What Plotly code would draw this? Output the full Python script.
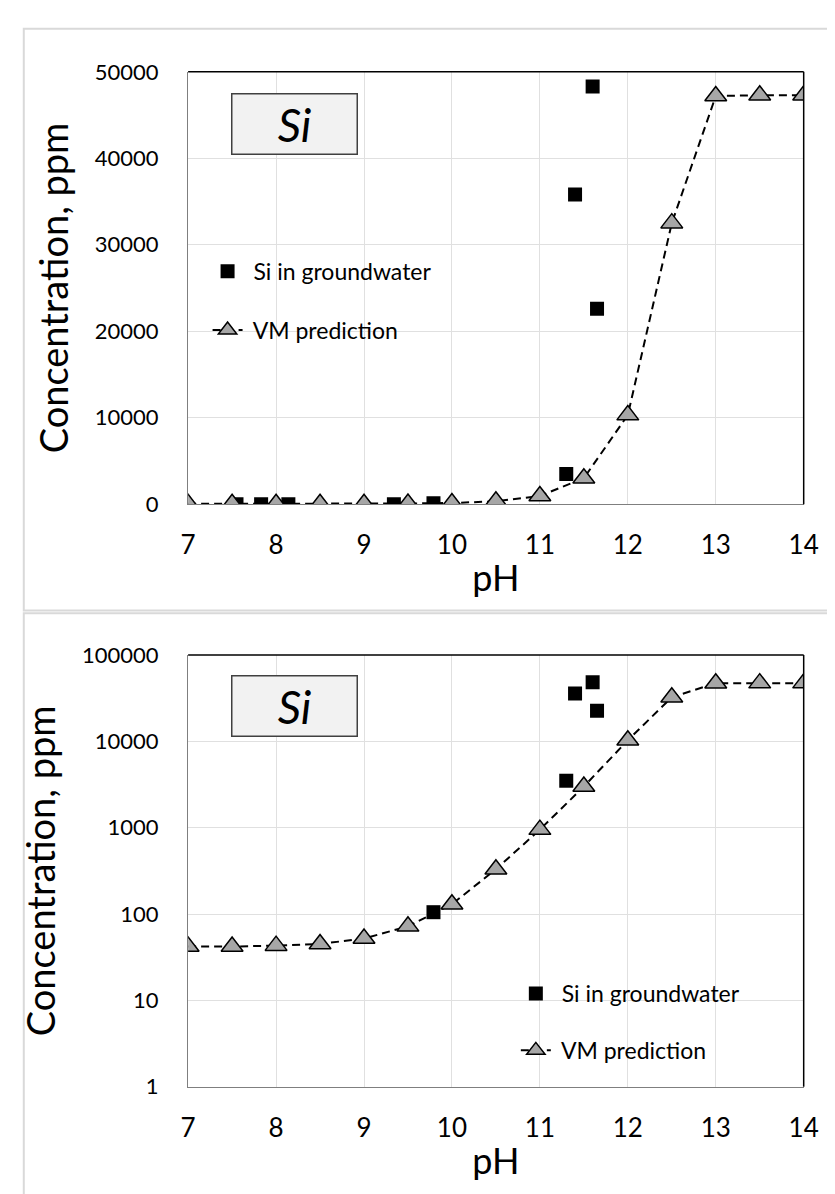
import plotly.graph_objects as go

# ---- data ----
ph_model = [7, 7.5, 8, 8.5, 9, 9.5, 10, 10.5, 11, 11.5, 12, 12.5, 13, 13.5, 14]
si_model = [42, 42, 43, 45, 52, 72, 130, 330, 950, 3000, 10300, 32500, 47200, 47300, 47300]
ph_gw = [7.55, 7.83, 8.14, 9.34, 9.79, 11.3, 11.4, 11.6, 11.65]
si_gw = [0, 0, 0, 0, 105, 3500, 35800, 48300, 22600]
x_ticks = [7, 8, 9, 10, 11, 12, 13, 14]
y_lin_ticks = [0, 10000, 20000, 30000, 40000, 50000]
y_log_ticks = [1, 10, 100, 1000, 10000, 100000]

W, H = 835, 1194
FONT = "Lato, 'Open Sans', sans-serif"
NB = "\u00a0"

def py(p):  # pixel y from top -> paper
    return 1 - p / H

def px(p):
    return p / W

fig = go.Figure()

tri = dict(symbol="triangle-up", size=19, color="#a6a6a6", line=dict(color="#000000", width=1.5))
sq = dict(symbol="square", size=14, color="#000000")

for i, (xa, ya, lg) in enumerate([("x", "y", "legend"), ("x2", "y2", "legend2")]):
    fig.add_trace(go.Scatter(
        x=ph_gw, y=si_gw, mode="markers", name=NB + "Si in groundwater",
        marker=sq, xaxis=xa, yaxis=ya, legend=lg, legendgroup=f"a{i}"))
    fig.add_trace(go.Scatter(
        x=ph_model, y=si_model, mode="lines+markers", name=NB + "VM prediction",
        line=dict(color="#000000", width=2, dash="8px,5px"),
        marker=tri, xaxis=xa, yaxis=ya, legend=lg, legendgroup=f"b{i}"))

xdom = [px(177), px(810)]
grid = "#e0e0e0"
axis_common = dict(showline=True, linecolor="#7f7f7f", linewidth=1.3, mirror=False,
                   gridcolor=grid, gridwidth=1, zeroline=False, ticks="")
xfont = dict(family=FONT, size=26, color="#000000")
yfont = dict(family=FONT, size=22, color="#000000")
xtitle = dict(text="pH", font=dict(family=FONT, size=36, color="#000000"), standoff=6)
ytitle = dict(text="Concentration, ppm", font=dict(family=FONT, size=38, color="#000000"), standoff=14)

fig.update_layout(
    width=W, height=H, margin=dict(l=0, r=0, t=0, b=0),
    paper_bgcolor="white", plot_bgcolor="white", showlegend=True,
    xaxis=dict(domain=xdom, range=[7, 14], tickvals=x_ticks, anchor="y", title=xtitle,
               tickfont=xfont, ticklabelstandoff=18, **axis_common),
    yaxis=dict(domain=[py(493.3), py(51)], range=[0, 50000], tickvals=y_lin_ticks,
               ticktext=[str(v) for v in y_lin_ticks], anchor="x", title=ytitle,
               tickfont=yfont, ticklabelstandoff=24, **axis_common),
    xaxis2=dict(domain=xdom, range=[7, 14], tickvals=x_ticks, anchor="y2", title=xtitle,
                tickfont=xfont, ticklabelstandoff=18, **axis_common),
    yaxis2=dict(domain=[py(1089.3), py(647.7)], type="log", range=[0, 5], tickvals=y_log_ticks,
                ticktext=[str(v) for v in y_log_ticks], anchor="x2", title=ytitle,
                tickfont=yfont, ticklabelstandoff=24, **axis_common),
    legend=dict(x=px(197), y=py(233), xanchor="left", yanchor="top", bgcolor="rgba(0,0,0,0)",
                font=dict(family=FONT, size=23, color="#000000"), traceorder="grouped",
                tracegroupgap=26, itemwidth=30),
    legend2=dict(x=px(514), y=py(972), xanchor="left", yanchor="top", bgcolor="rgba(0,0,0,0)",
                 font=dict(family=FONT, size=23, color="#000000"), traceorder="grouped",
                 tracegroupgap=24, itemwidth=30),
)

# black plot-area border on top and right
for xr, yr in (("x", "y"), ("x2", "y2")):
    fig.add_shape(type="line", xref=f"{xr} domain", yref=f"{yr} domain", x0=0, x1=1, y0=1, y1=1,
                  line=dict(color="#000000", width=1.5))
    fig.add_shape(type="line", xref=f"{xr} domain", yref=f"{yr} domain", x0=1, x1=1, y0=0, y1=1,
                  line=dict(color="#000000", width=1.5))

# panel frames
fig.add_shape(type="rect", xref="paper", yref="paper", x0=px(8), x1=px(845), y0=py(602), y1=py(7),
              line=dict(color="#d9d9d9", width=2), layer="below")
fig.add_shape(type="rect", xref="paper", yref="paper", x0=px(8), x1=px(845), y0=py(1205), y1=py(605),
              line=dict(color="#d9d9d9", width=2), layer="below")

# Si label boxes
for yc in (104.5, 700):
    fig.add_annotation(xref="paper", yref="paper", x=px(286), y=py(yc), xanchor="center", yanchor="middle",
                       text="<i>Si</i>", showarrow=False,
                       font=dict(family=FONT, size=46, color="#000000"),
                       bgcolor="#f2f2f2", bordercolor="#404040", borderwidth=1.5, borderpad=1,
                       width=122, height=57, align="center", valign="middle")

fig.write_html("out.html")
